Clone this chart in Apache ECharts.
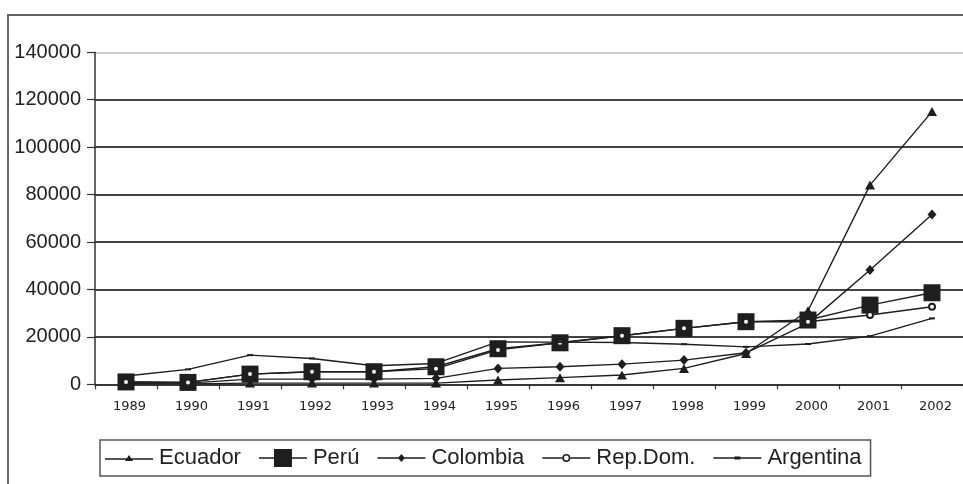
<!DOCTYPE html>
<html>
<head>
<meta charset="utf-8">
<script src="https://cdn.jsdelivr.net/npm/echarts@6/dist/echarts.min.js"></script>
<style>html,body{margin:0;padding:0;background:#fff;}#c{width:963px;height:484px;}</style>
</head>
<body>
<div id="c"></div>
<script>
const years = ['1989','1990','1991','1992','1993','1994','1995','1996','1997','1998','1999','2000','2001','2002'];
const yTicks = [0, 20000, 40000, 60000, 80000, 100000, 120000, 140000];
const ecuador   = [300, 200, 500, 500, 500, 500, 1800, 2800, 3900, 6700, 13000, 31000, 84000, 115000];
const peru      = [1000, 800, 4300, 5300, 5300, 7400, 15000, 17500, 20500, 23600, 26400, 27100, 33400, 38600];
const colombia  = [500, 500, 2200, 2200, 2200, 2500, 6700, 7400, 8500, 10200, 13300, 25700, 48200, 71600];
const repdom    = [1000, 800, 4300, 5300, 5300, 6600, 14500, 17500, 20500, 23600, 26400, 26400, 29200, 32700];
const argentina = [3500, 6300, 12300, 10900, 7800, 8800, 17900, 17800, 17600, 16900, 15800, 17000, 20300, 27800];
const names = ['Ecuador', 'Perú', 'Colombia', 'Rep.Dom.', 'Argentina'];

const LINE = 'M0 8.3 L48 8.3 L48 9.7 L0 9.7 Z ';
const icons = [
  'path://' + LINE + 'M24 5 L28 11 L20 11 Z',
  'path://' + LINE + 'M15 0 L33 0 L33 18 L15 18 Z',
  'path://' + LINE + 'M24 5 L27.5 9 L24 13 L20.5 9 Z',
  'path://M0 8.3 L20 8.3 L20 9.7 L0 9.7 Z M28 8.3 L48 8.3 L48 9.7 L28 9.7 Z M20 9 A4 4 0 1 1 28 9 A4 4 0 1 1 20 9 Z M21.6 9 A2.4 2.4 0 1 0 26.4 9 A2.4 2.4 0 1 0 21.6 9 Z',
  'path://' + LINE + 'M21 7.5 L27 7.5 L27 10.5 L21 10.5 Z'
];

const chart = echarts.init(document.getElementById('c'), null, {renderer: 'canvas'});
const lineCol = '#1e1e1e';
function mk(name, data, symbol, size, extra) {
  return Object.assign({
    name: name, type: 'line', data: data, symbol: symbol, symbolSize: size,
    showAllSymbol: true, animation: false,
    lineStyle: {color: lineCol, width: 1.4},
    itemStyle: {color: lineCol}
  }, extra || {});
}
chart.setOption({
  backgroundColor: '#fff',
  animation: false,
  graphic: [{
    type: 'rect', shape: {x: 8, y: 15, width: 1000, height: 500},
    style: {fill: 'none', stroke: '#666', lineWidth: 2}, silent: true, z: -1
  }],
  grid: {left: 95, top: 52.3, width: 885, height: 332, containLabel: false},
  xAxis: {
    type: 'category', data: years, boundaryGap: true,
    axisLine: {lineStyle: {color: '#333', width: 1.5}},
    axisTick: {show: true, length: 5, lineStyle: {color: '#333', width: 1.2}},
    axisLabel: {fontFamily: 'DejaVu Sans', fontSize: 13, color: '#222', margin: 16, padding: [0, 0, 0, 7], interval: 0},
    splitLine: {show: false}
  },
  yAxis: {
    type: 'value', min: 0, max: 140000, interval: 20000,
    axisLine: {show: true, lineStyle: {color: '#333', width: 1.5}},
    axisTick: {show: true, length: 8, lineStyle: {color: '#333', width: 1.2}},
    axisLabel: {fontFamily: 'Liberation Sans', fontSize: 20, color: '#222', margin: 14,
      formatter: function (v) { return yTicks.indexOf(v) >= 0 ? String(v) : ''; }},
    splitLine: {show: true, lineStyle: {color: ['#444','#444','#444','#444','#444','#444','#444','#ccc'], width: 1.8}}
  },
  legend: {
    left: 100, top: 440,
    orient: 'horizontal',
    itemWidth: 48, itemHeight: 18, itemGap: 18,
    padding: [7, 9, 7, 5],
    borderColor: '#555', borderWidth: 1.5,
    symbolKeepAspect: true,
    itemStyle: {borderWidth: 0},
    textStyle: {fontFamily: 'Liberation Sans', fontSize: 22, color: '#222', padding: [0, 0, 0, 1]},
    data: names.map(function (n, i) { return {name: n, icon: icons[i]}; })
  },
  series: [
    mk(names[0], ecuador, 'triangle', [10, 9]),
    mk(names[1], peru, 'rect', 17),
    mk(names[2], colombia, 'diamond', [9, 10]),
    mk(names[3], repdom, 'emptyCircle', 6, {itemStyle: {color: lineCol, borderColor: lineCol, borderWidth: 1.3}}),
    mk(names[4], argentina, 'rect', [6, 2])
  ]
});
</script>
</body>
</html>
